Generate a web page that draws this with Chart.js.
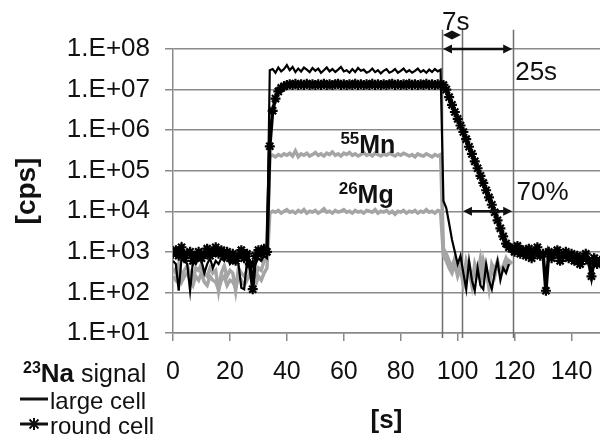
<!DOCTYPE html>
<html>
<head>
<meta charset="utf-8">
<script src="https://cdn.jsdelivr.net/npm/chart.js@4"></script>
<style>
  html, body { margin: 0; padding: 0; background: #fff; }
  #wrap { width: 600px; height: 443px; position: relative; }
</style>
</head>
<body>
<div id="wrap"><canvas id="signal-chart"></canvas></div>
<script>
// time axis [s]
const seconds = [
    0, 1, 2, 3, 4, 5, 6, 7, 8, 9, 10, 11, 12, 13, 14, 15, 16, 17, 18, 19,
    20, 21, 22, 23, 24, 25, 26, 27, 28, 29, 30, 31, 32, 33, 34, 35, 36, 37, 38, 39,
    40, 41, 42, 43, 44, 45, 46, 47, 48, 49, 50, 51, 52, 53, 54, 55, 56, 57, 58, 59,
    60, 61, 62, 63, 64, 65, 66, 67, 68, 69, 70, 71, 72, 73, 74, 75, 76, 77, 78, 79,
    80, 81, 82, 83, 84, 85, 86, 87, 88, 89, 90, 91, 92, 93, 94, 95, 96, 97, 98, 99,
    100, 101, 102, 103, 104, 105, 106, 107, 108, 109, 110, 111, 112, 113, 114, 115, 116, 117, 118, 119,
    120, 121, 122, 123, 124, 125, 126, 127, 128, 129, 130, 131, 132, 133, 134, 135, 136, 137, 138, 139,
    140, 141, 142, 143, 144, 145, 146, 147, 148, 149, 150
];

// 23Na, round cell [cps]
const roundCell = [
    900, 1100, 800, 1300, 700, 900, 1000, 600, 800, 1000,
    700, 900, 1200, 800, 1000, 1300, 900, 1100, 800, 1000,
    700, 900, 600, 800, 1100, 700, 900, 500, 120, 800,
    1100, 900, 1200, 1000, 4e5, 3e6, 6e6, 9e6, 1.1e7, 1.2e7,
    1.3e7, 1.35e7, 1.3e7, 1.4e7, 1.3e7, 1.35e7, 1.3e7, 1.4e7, 1.3e7, 1.35e7,
    1.3e7, 1.35e7, 1.3e7, 1.4e7, 1.3e7, 1.35e7, 1.3e7, 1.35e7, 1.4e7, 1.3e7,
    1.35e7, 1.3e7, 1.35e7, 1.3e7, 1.4e7, 1.3e7, 1.35e7, 1.3e7, 1.35e7, 1.3e7,
    1.4e7, 1.3e7, 1.35e7, 1.3e7, 1.35e7, 1.3e7, 1.35e7, 1.4e7, 1.3e7, 1.35e7,
    1.3e7, 1.35e7, 1.3e7, 1.4e7, 1.3e7, 1.35e7, 1.3e7, 1.35e7, 1.3e7, 1.4e7,
    1.3e7, 1.35e7, 1.3e7, 1.35e7, 1.3e7, 1.3e7, 1.0e7, 6.5e6, 4.2e6, 2.8e6,
    1.9e6, 1.3e6, 9e5, 6e5, 3.9e5, 2.6e5, 1.7e5, 1.15e5, 7.5e4, 5e4,
    3.3e4, 2.2e4, 1.45e4, 9.5e3, 6e3, 3.8e3, 2.4e3, 1.6e3, 1300, 1200,
    1000, 1400, 900, 1100, 800, 1200, 700, 1000, 1300, 800,
    900, 110, 1000, 700, 900, 1100, 600, 800, 1000, 700,
    900, 600, 800, 500, 700, 900, 600, 250, 700, 500, 600
];

// 23Na, large cell [cps]
const largeCell = [
    600, 500, 110, 700, 600, 500, 110, 600, 500, 700,
    600, 300, 500, 700, 400, 600, 500, 700, 600, 800,
    500, 600, 700, 500, 130, 120, 600, 400, 600, 500,
    700, 600, 800, 700, 3e7, 3.2e7, 2.6e7, 3.5e7, 2.8e7, 3.2e7,
    4e7, 3e7, 3.6e7, 2.7e7, 3.3e7, 2.8e7, 3.5e7, 3.1e7, 2.7e7, 3.4e7,
    2.9e7, 3.3e7, 2.6e7, 3e7, 3.5e7, 2.8e7, 3.2e7, 2.7e7, 3.1e7, 3.6e7,
    2.8e7, 3e7, 2.6e7, 3.2e7, 2.7e7, 3.4e7, 2.9e7, 3.1e7, 2.6e7, 2.8e7,
    3.3e7, 2.7e7, 3e7, 2.5e7, 2.9e7, 3.2e7, 2.6e7, 2.8e7, 3.2e7, 2.6e7,
    2.9e7, 3.3e7, 2.7e7, 3e7, 2.6e7, 2.9e7, 3.3e7, 2.7e7, 3e7, 2.6e7,
    3.1e7, 2.7e7, 3.2e7, 2.8e7, 3.1e7, 1.8e4, 1.2e4, 5e3, 2e3, 1000,
    500, 800, 300, 120, 600, 200, 110, 400, 150, 120,
    500, 200, 120, 300, 600, 200, 400, 300, 500
];

// 55Mn [cps]
const mn55 = [
    400, 300, 500, 250, 350, 450, 300, 200, 400, 350,
    500, 300, 250, 400, 300, 350, 110, 300, 450, 250,
    350, 300, 110, 400, 300, 250, 350, 500, 300, 250,
    400, 350, 600, 700, 2.2e5, 2.4e5, 2.2e5, 2.5e5, 2.3e5, 2.6e5,
    2.4e5, 2.7e5, 2.3e5, 3.1e5, 2.2e5, 2.6e5, 2.4e5, 2.7e5, 2.3e5, 2.5e5,
    2.8e5, 2.4e5, 2.6e5, 2.3e5, 2.7e5, 2.5e5, 2.9e5, 2.4e5, 2.6e5, 2.3e5,
    2.7e5, 2.5e5, 2.8e5, 2.4e5, 2.6e5, 2.3e5, 2.5e5, 2.8e5, 2.4e5, 2.6e5,
    2.3e5, 2.7e5, 2.5e5, 2.3e5, 2.6e5, 2.4e5, 2.7e5, 2.5e5, 2.3e5, 2.6e5,
    2.4e5, 2.7e5, 2.5e5, 2.3e5, 2.5e5, 2.2e5, 2.6e5, 2.4e5, 2.3e5, 2.6e5,
    2.4e5, 2.2e5, 2.5e5, 2.3e5, 2.5e5, 1200, 900, 600, 400, 700,
    300, 500, 200, 600, 350, 150, 500, 300, 700, 250,
    400, 130, 500, 350, 600, 300, 450, 700, 500, 600
];

// 26Mg [cps]
const mg26 = [
    250, 200, 300, 180, 250, 300, 200, 150, 250, 200,
    300, 180, 150, 250, 200, 180, 120, 200, 250, 150,
    200, 180, 130, 250, 200, 150, 200, 300, 180, 150,
    250, 200, 300, 400, 9e3, 1e4, 9.5e3, 1.05e4, 9e3, 1e4,
    1.1e4, 9.5e3, 1e4, 9e3, 1.05e4, 9.5e3, 1.1e4, 9e3, 1e4, 9.5e3,
    1.05e4, 9e3, 1e4, 1.15e4, 9.5e3, 1e4, 9e3, 1.05e4, 9.5e3, 1e4,
    1.1e4, 9.5e3, 1e4, 9e3, 1.05e4, 9.5e3, 1e4, 9e3, 1.05e4, 1e4,
    9.5e3, 1.1e4, 9e3, 1e4, 9.5e3, 1.05e4, 9e3, 1e4, 8.5e3, 1e4,
    9.5e3, 1.05e4, 9e3, 1e4, 9.5e3, 1.05e4, 9e3, 1e4, 9.5e3, 1.1e4,
    9.5e3, 1e4, 9e3, 1.05e4, 1e4, 800, 600, 400, 300, 500,
    250, 400, 150, 350, 500, 200, 300, 450, 200, 600,
    300, 150, 400, 250, 500, 300, 350, 450, 600, 500
];

// axes
const xTicks = [0, 20, 40, 60, 80, 100, 120, 140];
const yTicks = [1e1, 1e2, 1e3, 1e4, 1e5, 1e6, 1e7, 1e8];
const yTickLabels = ['1.E+01', '1.E+02', '1.E+03', '1.E+04', '1.E+05', '1.E+06', '1.E+07', '1.E+08'];

// washout markers [s] and the arrows between them
const markerTimes = [94.5, 101.5, 119.5];
const arrows = [
    { from: 94.5, to: 101.5, at: 2.2e8 },
    { from: 94.5, to: 119.5, at: 1e8 },
    { from: 101.5, to: 119.5, at: 1e4 }
];

const FONT = "'Liberation Sans', Arial, sans-serif";
const GRID = '#8a8a8a';

function toPoints(values) {
    return values.map((v, i) => ({ x: seconds[i], y: v }));
}

function superText(ctx, x, baseline, sup, supSize, main, mainFont, tail, tailFont) {
    ctx.textAlign = 'left';
    ctx.textBaseline = 'alphabetic';
    ctx.font = 'bold ' + supSize + 'px ' + FONT;
    ctx.fillText(sup, x, baseline - 9);
    x += ctx.measureText(sup).width;
    ctx.font = mainFont;
    ctx.fillText(main, x, baseline);
    x += ctx.measureText(main).width;
    if (tail) {
        ctx.font = tailFont;
        ctx.fillText(tail, x, baseline);
    }
}

function arrowHead(ctx, x, y, dir) {
    ctx.beginPath();
    ctx.moveTo(x, y);
    ctx.lineTo(x - dir * 9, y - 4.5);
    ctx.lineTo(x - dir * 9, y + 4.5);
    ctx.closePath();
    ctx.fill();
}

const markerLines = {
    id: 'markerLines',
    beforeDatasetsDraw(chart) {
        const { ctx, scales: { x, y } } = chart;
        ctx.save();
        ctx.strokeStyle = '#6e6e6e';
        ctx.lineWidth = 1.5;
        markerTimes.forEach(function(t) {
            const px = Math.round(x.getPixelForValue(t)) + 0.5;
            ctx.beginPath();
            ctx.moveTo(px, y.getPixelForValue(3e8));
            ctx.lineTo(px, y.getPixelForValue(10) + 5);
            ctx.stroke();
        });
        ctx.restore();
    }
};

const overlay = {
    id: 'overlay',
    afterDraw(chart) {
        const { ctx, scales: { x, y } } = chart;
        ctx.save();
        ctx.fillStyle = '#111';
        ctx.strokeStyle = '#111';

        // arrows
        ctx.lineWidth = 2.5;
        arrows.forEach(function(a) {
            const x1 = x.getPixelForValue(a.from) + 1;
            const x2 = x.getPixelForValue(a.to) - 1;
            const py = y.getPixelForValue(a.at);
            ctx.beginPath();
            ctx.moveTo(x1 + 4, py);
            ctx.lineTo(x2 - 4, py);
            ctx.stroke();
            arrowHead(ctx, x1, py, -1);
            arrowHead(ctx, x2, py, 1);
        });

        // annotation text
        ctx.textBaseline = 'middle';
        ctx.textAlign = 'center';
        ctx.font = '26px ' + FONT;
        ctx.fillText('7s', x.getPixelForValue(99.3), 23);
        ctx.textAlign = 'left';
        ctx.fillText('25s', x.getPixelForValue(120.2), y.getPixelForValue(2.6e7));
        ctx.fillText('70%', x.getPixelForValue(120.7), y.getPixelForValue(2.8e4));

        superText(ctx, x.getPixelForValue(58.8), y.getPixelForValue(2.8e5), '55', 17,
            'Mn', 'bold 25px ' + FONT);
        superText(ctx, x.getPixelForValue(58.2), y.getPixelForValue(1.2e4) - 5, '26', 17,
            'Mg', 'bold 25px ' + FONT);

        // legend block under the y axis
        superText(ctx, 23, 382, '23', 16, 'Na', 'bold 26px ' + FONT, ' signal', '25px ' + FONT);
        ctx.font = '24px ' + FONT;
        ctx.fillText('large cell', 50, 409);
        ctx.fillText('round cell', 50, 434);
        ctx.lineWidth = 3;
        ctx.beginPath();
        ctx.moveTo(20, 399);
        ctx.lineTo(48, 399);
        ctx.moveTo(20, 424);
        ctx.lineTo(48, 424);
        ctx.stroke();
        ctx.lineWidth = 2;
        ctx.beginPath();
        ctx.moveTo(28, 424); ctx.lineTo(40, 424);
        ctx.moveTo(34, 418); ctx.lineTo(34, 430);
        ctx.moveTo(29.5, 419.5); ctx.lineTo(38.5, 428.5);
        ctx.moveTo(29.5, 428.5); ctx.lineTo(38.5, 419.5);
        ctx.stroke();

        ctx.restore();
    }
};

Chart.defaults.font.family = FONT;
Chart.defaults.color = '#111';

new Chart(document.getElementById('signal-chart'), {
    type: 'line',
    data: {
        datasets: [
            {
                label: 'round cell',
                data: toPoints(roundCell),
                borderColor: '#000',
                backgroundColor: '#000',
                borderWidth: 3.5,
                pointStyle: 'star',
                pointRadius: 5,
                pointBorderWidth: 2.2,
                pointBorderColor: '#000',
                tension: 0
            },
            {
                label: 'large cell',
                data: toPoints(largeCell),
                borderColor: '#000',
                borderWidth: 2.2,
                pointRadius: 0,
                tension: 0
            },
            {
                label: '55Mn',
                data: toPoints(mn55),
                borderColor: '#a5a5a5',
                borderWidth: 3.5,
                pointRadius: 0,
                tension: 0
            },
            {
                label: '26Mg',
                data: toPoints(mg26),
                borderColor: '#a5a5a5',
                borderWidth: 3.5,
                pointRadius: 0,
                tension: 0
            }
        ]
    },
    options: {
        responsive: true,
        maintainAspectRatio: false,
        animation: false,
        layout: {
            autoPadding: false,
            padding: { top: 49, right: 0, bottom: 0, left: 0 }
        },
        plugins: {
            legend: { display: false },
            tooltip: { enabled: false }
        },
        scales: {
            x: {
                type: 'linear',
                min: 0,
                max: 150,
                afterBuildTicks: function(scale) {
                    scale.ticks = xTicks.map(v => ({ value: v }));
                },
                afterFit: function(scale) {
                    scale.height = 110;
                    scale.paddingLeft = 0;
                    scale.paddingRight = 0;
                },
                grid: {
                    drawOnChartArea: false,
                    drawTicks: true,
                    tickLength: 8,
                    color: GRID,
                    lineWidth: 1.5
                },
                border: { display: true, color: GRID, width: 1.5 },
                ticks: {
                    padding: 16,
                    maxRotation: 0,
                    font: { size: 25 },
                    color: '#111'
                },
                title: {
                    display: true,
                    text: '[s]',
                    font: { size: 26, weight: 'bold' },
                    padding: { top: 0, bottom: 7 },
                    color: '#111'
                }
            },
            y: {
                type: 'logarithmic',
                min: 10,
                max: 1e8,
                afterBuildTicks: function(scale) {
                    scale.ticks = yTicks.map(v => ({ value: v }));
                },
                afterFit: function(scale) {
                    scale.width = 173;
                    scale.paddingTop = 0;
                    scale.paddingBottom = 0;
                },
                grid: {
                    drawTicks: true,
                    tickLength: 8,
                    color: GRID,
                    lineWidth: 1.5
                },
                border: { display: true, color: GRID, width: 1.5 },
                ticks: {
                    padding: 15,
                    font: { size: 26 },
                    color: '#111',
                    callback: function(value) {
                        const i = yTicks.indexOf(value);
                        return i >= 0 ? yTickLabels[i] : '';
                    }
                },
                title: {
                    display: true,
                    text: '[cps]',
                    font: { size: 28, weight: 'bold' },
                    padding: { top: 10, bottom: 0 },
                    color: '#111'
                }
            }
        }
    },
    plugins: [markerLines, overlay]
});
</script>
</body>
</html>
